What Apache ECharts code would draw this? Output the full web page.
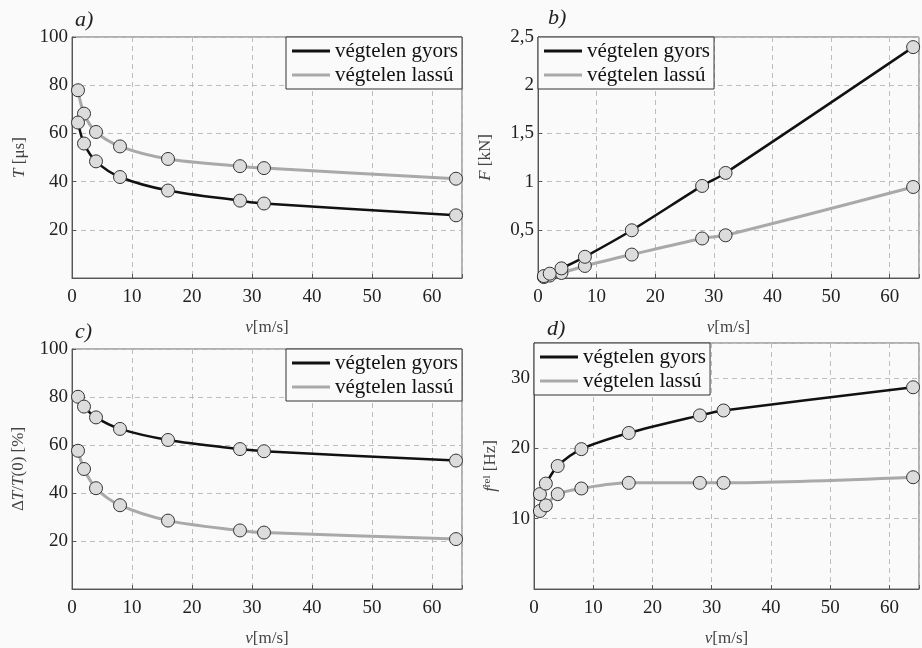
<!DOCTYPE html>
<html>
<head>
<meta charset="utf-8">
<script src="https://cdn.jsdelivr.net/npm/echarts@6/dist/echarts.min.js"></script>
<style>
  html, body { margin: 0; padding: 0; background: #fafafa; }
  #main { width: 922px; height: 648px; }
</style>
</head>
<body>
<div id="main"></div>
<script>
// sebesség [m/s]
var vel = [1, 2, 4, 8, 16, 28, 32, 64];
// a) T [us]
var tGyors = [64.5, 55.8, 48.4, 41.9, 36.3, 32.1, 30.9, 26.0];
var tLassu = [77.9, 68.2, 60.6, 54.6, 49.4, 46.4, 45.6, 41.2];
// b) F [kN]
var fGyors = [0.02, 0.045, 0.1, 0.22, 0.495, 0.955, 1.09, 2.395];
var fLassu = [0.01, 0.025, 0.052, 0.125, 0.243, 0.41, 0.443, 0.944];
// c) dT/T(0) [%]
var dGyors = [80.1, 76.0, 71.5, 66.7, 62.1, 58.3, 57.4, 53.5];
var dLassu = [57.6, 50.0, 42.0, 34.9, 28.5, 24.4, 23.5, 20.8];
// d) f_rel [Hz]
var frGyors = [13.5, 15.0, 17.5, 19.9, 22.2, 24.7, 25.4, 28.7];
var frLassu = [11.1, 11.9, 13.5, 14.3, 15.1, 15.1, 15.1, 15.9];

var names = ['végtelen gyors', 'végtelen lassú'];
var panelLetters = ['a)', 'b)', 'c)', 'd)'];

var serif = '"Liberation Serif", "DejaVu Serif", serif';
var black = '#111111';
var gray = '#a9a9a9';
var nameSize = 17;

var myChart = echarts.init(document.getElementById('main'));

function pairs(ys) {
    var out = [];
    for (var i = 0; i < vel.length; i++) out.push([vel[i], ys[i]]);
    return out;
}

function mkSeries(name, ys, idx, color, width) {
    return {
        name: name,
        type: 'line',
        xAxisIndex: idx,
        yAxisIndex: idx,
        data: pairs(ys),
        smooth: 0.3,
        symbol: 'circle',
        symbolSize: 13,
        clip: false,
        lineStyle: { color: color, width: width },
        itemStyle: { color: '#dcdcdc', borderColor: '#333', borderWidth: 1 },
        emphasis: { disabled: true }
    };
}

function mkX(idx) {
    return {
        type: 'value', gridIndex: idx, min: 0, max: 65, interval: 10,
        name: '{i|v}[m/s]', nameLocation: 'middle', nameGap: 41,
        nameTextStyle: {
            fontFamily: serif, fontSize: nameSize, color: '#444',
            rich: { i: { fontFamily: serif, fontSize: nameSize, color: '#444', fontStyle: 'italic' } }
        },
        axisLine: { show: true, lineStyle: { color: '#555', width: 1 } },
        axisTick: { show: true, inside: true, length: 4, lineStyle: { color: '#555' } },
        axisLabel: {
            fontFamily: serif, fontSize: 19, color: '#222', margin: 10,
            formatter: function (v) { return v % 10 === 0 ? String(v) : ''; }
        },
        splitLine: { show: true, lineStyle: { color: '#bdbdbd', type: [5, 4], width: 1 } }
    };
}

function mkY(idx, max, interval, name, gap, comma) {
    return {
        type: 'value', gridIndex: idx, min: 0, max: max, interval: interval,
        name: name, nameLocation: 'middle', nameGap: gap,
        nameTextStyle: {
            fontFamily: serif, fontSize: nameSize, color: '#444',
            rich: {
                i: { fontFamily: serif, fontSize: nameSize, color: '#444', fontStyle: 'italic' },
                n: { fontFamily: serif, fontSize: nameSize, color: '#444' },
                s: { fontFamily: serif, fontSize: 11, color: '#444', verticalAlign: 'top' }
            }
        },
        axisLine: { show: true, lineStyle: { color: '#555', width: 1 } },
        axisTick: { show: true, inside: true, length: 4, lineStyle: { color: '#555' } },
        axisLabel: {
            fontFamily: serif, fontSize: 19, color: '#222', margin: 4,
            formatter: function (v) {
                if (v === 0) return '';
                var r = Math.round(v / interval * 1000) / 1000;
                if (Math.abs(r - Math.round(r)) > 1e-6) return '';
                var s = String(v);
                return comma ? s.replace('.', ',') : s;
            }
        },
        splitLine: { show: true, lineStyle: { color: '#bdbdbd', type: [5, 4], width: 1 } }
    };
}

function mkLegend(left, top) {
    return {
        left: left, top: top, orient: 'vertical',
        selectedMode: false,
        icon: 'rect', itemWidth: 38, itemHeight: 3, itemGap: 2,
        padding: [3, 4, 3, 6],
        backgroundColor: '#fafafa',
        borderColor: '#333', borderWidth: 1, borderRadius: 0,
        textStyle: { fontFamily: serif, fontSize: 21, lineHeight: 22, color: '#111' },
        data: [
            { name: names[0], itemStyle: { color: black, borderWidth: 0 } },
            { name: names[1], itemStyle: { color: gray, borderWidth: 0 } }
        ],
        z: 10
    };
}

var titlePos = [[75, 9], [548, 7], [75, 321], [547, 318]];
var titles = [];
for (var k = 0; k < 4; k++) {
    titles.push({
        text: panelLetters[k], left: titlePos[k][0], top: titlePos[k][1], padding: 0,
        textStyle: { fontFamily: serif, fontStyle: 'italic', fontWeight: 'normal', fontSize: 22, color: '#222' }
    });
}

var gridStyle = { show: true, backgroundColor: '#fafafa', borderColor: '#666', borderWidth: 1 };

var option = {
    backgroundColor: '#fafafa',
    animation: false,
    title: titles,
    grid: [
        Object.assign({ left: 72, top: 37, width: 390, height: 241 }, gridStyle),
        Object.assign({ left: 538, top: 37, width: 393, height: 241 }, gridStyle),
        Object.assign({ left: 72, top: 349, width: 390, height: 240 }, gridStyle),
        Object.assign({ left: 534, top: 343, width: 398, height: 246 }, gridStyle)
    ],
    xAxis: [mkX(0), mkX(1), mkX(2), mkX(3)],
    yAxis: [
        mkY(0, 100, 20, '{i|T} [μs]', 44, false),
        mkY(1, 2.5, 0.5, '{i|F} [kN]', 44, true),
        mkY(2, 100, 20, '{n|Δ}{i|T}{n|/}{i|T}{n|(0) [%]}', 45, false),
        mkY(3, 35, 10, '{i|f}{s|rel} {n|[Hz]}', 35, false)
    ],
    legend: [mkLegend(286, 37), mkLegend(538, 37), mkLegend(286, 349), mkLegend(534, 343)],
    series: [
        mkSeries(names[1], tLassu, 0, gray, 3),
        mkSeries(names[0], tGyors, 0, black, 2.5),
        mkSeries(names[1], fLassu, 1, gray, 3),
        mkSeries(names[0], fGyors, 1, black, 2.5),
        mkSeries(names[1], dLassu, 2, gray, 3),
        mkSeries(names[0], dGyors, 2, black, 2.5),
        mkSeries(names[1], frLassu, 3, gray, 3),
        mkSeries(names[0], frGyors, 3, black, 2.5)
    ]
};

myChart.setOption(option);
</script>
</body>
</html>
